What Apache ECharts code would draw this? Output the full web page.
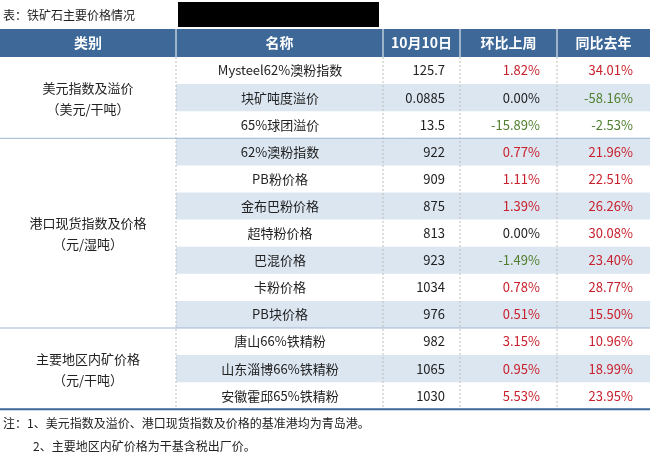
<!DOCTYPE html>
<html><head><meta charset="utf-8">
<script src="https://cdn.jsdelivr.net/npm/echarts@6/dist/echarts.min.js"></script>
<style>html,body{margin:0;padding:0;background:#fff}#main{width:650px;height:457px}</style>
</head><body><div id="main"></div>
<script>
var headers = ['类别', '名称', '10月10日', '环比上周', '同比去年'];
var groups = [['美元指数及溢价', '（美元/干吨）', 3], ['港口现货指数及价格', '（元/湿吨）', 7], ['主要地区内矿价格', '（元/干吨）', 3]];
var names = ['Mysteel62%澳粉指数', '块矿吨度溢价', '65%球团溢价', '62%澳粉指数', 'PB粉价格', '金布巴粉价格', '超特粉价格', '巴混价格', '卡粉价格', 'PB块价格', '唐山66%铁精粉', '山东淄博66%铁精粉', '安徽霍邱65%铁精粉'];
var prices = ['125.7', '0.0885', '13.5', '922', '909', '875', '813', '923', '1034', '976', '982', '1065', '1030'];
var wow = [1.82, 0.00, -15.89, 0.77, 1.11, 1.39, 0.00, -1.49, 0.78, 0.51, 3.15, 0.95, 5.53];
var yoy = [34.01, -58.16, -2.53, 21.96, 22.51, 26.26, 30.08, 23.40, 28.77, 15.50, 10.96, 18.99, 23.95];

window.onload = function () {
    var chart = echarts.init(document.getElementById('main'));
    var font = '"Noto Sans CJK SC", "Noto Sans", sans-serif';
    var cols = [0, 176, 383, 460, 557, 650];
    var top = 29, headH = 28, rowH = 27.1, y0 = top + headH;
    var els = [];
    function txt(x, y, s, color, align, size, weight) {
        els.push({ type: 'text', x: x, y: y, style: { text: s, fill: color || '#222', align: align || 'center', verticalAlign: 'middle', font: (weight || 'normal') + ' ' + (size || 13) + 'px ' + font } });
    }
    function pctColor(v) { return v > 0 ? '#c8202c' : (v < 0 ? '#4f7f2d' : '#222'); }

    txt(3, 15, '表：铁矿石主要价格情况', '#222', 'left', 12);
    els.push({ type: 'rect', shape: { x: 178, y: 2, width: 201, height: 25 }, style: { fill: '#000' } });
    els.push({ type: 'rect', shape: { x: 0, y: top, width: 650, height: headH }, style: { fill: '#3d6898' } });
    headers.forEach(function (h, i) {
        txt((cols[i] + cols[i + 1]) / 2, top + headH / 2, h, '#fff', 'center', 14, 'bold');
    });
    names.forEach(function (n, r) {
        var y = y0 + r * rowH;
        if (r % 2 === 1) els.push({ type: 'rect', shape: { x: cols[1], y: y, width: 650 - cols[1], height: rowH }, style: { fill: '#dce6f1' } });
        var cy = y + rowH / 2;
        txt(280, cy, n);
        txt(445, cy, prices[r], '#222', 'right');
        txt(540, cy, wow[r].toFixed(2) + '%', pctColor(wow[r]), 'right');
        txt(633, cy, yoy[r].toFixed(2) + '%', pctColor(yoy[r]), 'right');
    });
    var bottom = y0 + names.length * rowH;
    for (var c = 1; c < 5; c++) {
        els.push({ type: 'line', shape: { x1: cols[c], y1: top, x2: cols[c], y2: top + headH }, style: { stroke: '#ffffff', lineWidth: 1 } });
        els.push({ type: 'line', shape: { x1: cols[c], y1: y0, x2: cols[c], y2: bottom }, style: { stroke: '#bbbbbb', lineWidth: 1, lineDash: [2, 2] } });
    }
    var start = 0;
    groups.forEach(function (g, i) {
        var gy = y0 + start * rowH, gh = g[2] * rowH;
        txt(88, gy + gh / 2 - 10, g[0]);
        txt(88, gy + gh / 2 + 11, g[1]);
        start += g[2];
        if (i < groups.length - 1) els.push({ type: 'line', shape: { x1: 0, y1: y0 + start * rowH, x2: 650, y2: y0 + start * rowH }, style: { stroke: '#9fb7d3', lineWidth: 1 } });
    });
    els.push({ type: 'line', shape: { x1: 0, y1: bottom, x2: 650, y2: bottom }, style: { stroke: '#3d6898', lineWidth: 2 } });
    txt(3, bottom + 14, '注：1、美元指数及溢价、港口现货指数及价格的基准港均为青岛港。', '#222', 'left', 12);
    txt(33, bottom + 37, '2、主要地区内矿价格为干基含税出厂价。', '#222', 'left', 12);
    chart.setOption({ animation: false, graphic: { elements: els } });
};
</script></body></html>
